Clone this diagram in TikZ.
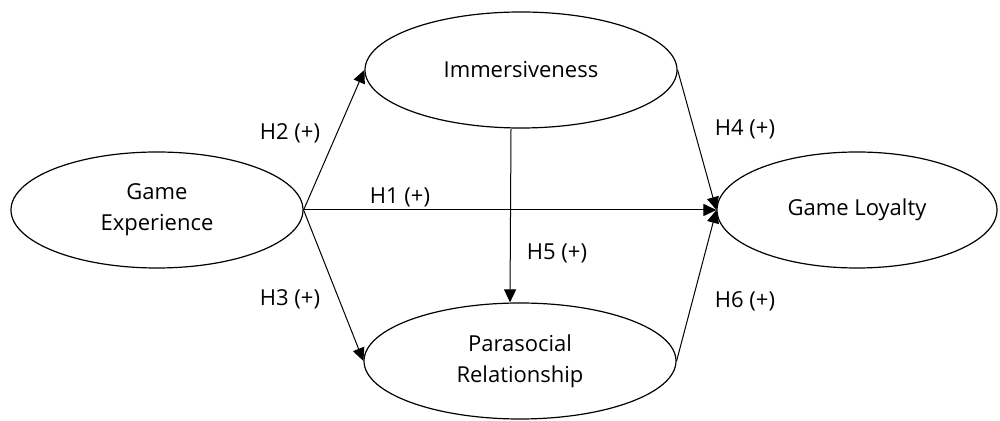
\documentclass[tikz,border=0pt]{standalone}
\usepackage{fontspec}
\setmainfont{Open Sans}
\usetikzlibrary{positioning,calc,arrows.meta,shapes.geometric}
\definecolor{edgeDark}{RGB}{0,0,0}

\begin{document}
\begin{tikzpicture}[
  x=0.5pt,y=-0.5pt,
  font=\fontsize{11}{15.5}\selectfont,
  construct/.style={ellipse,draw=edgeDark,line width=0.6pt,align=center,
                    inner sep=0pt,minimum height=58pt},
  link/.style={-{Triangle[length=6.5pt,width=6pt]},line width=0.5pt},
  hyp/.style={inner sep=1pt}
]
\useasboundingbox (0,0) rectangle (1000,421);

% ==========  Constructs  ==========
\node[construct,minimum width=146pt] at (157,210) (gexp) {Game\\Experience};
\node[construct,minimum width=156pt] at (521,70)  (imm)  {Immersiveness};
\node[construct,minimum width=156pt] at (520,361) (para) {Parasocial\\Relationship};
\node[construct,minimum width=140pt] at (857,210) (loyal) {Game Loyalty};

% ==========  Paths  ==========
\draw[link] (gexp.east) -- (imm.west);
\draw[link] (gexp.east) -- (loyal.west);
\draw[link] (gexp.east) -- (para.west);
\draw[link] ([xshift=-5pt]imm.south) -- ([xshift=-5pt]para.north);
\draw[link] (imm.east) -- (loyal.west);
\draw[link] (para.east) -- (loyal.west);

% ==========  Hypotheses  ==========
\node[hyp] at (290,133) (h2) {H2 (+)};
\node[hyp] at (400,197) (h1) {H1 (+)};
\node[hyp] at (290,299) (h3) {H3 (+)};
\node[hyp] at (745,129) (h4) {H4 (+)};
\node[hyp] at (557,253) (h5) {H5 (+)};
\node[hyp] at (745,301) (h6) {H6 (+)};

\end{tikzpicture}
\end{document}
